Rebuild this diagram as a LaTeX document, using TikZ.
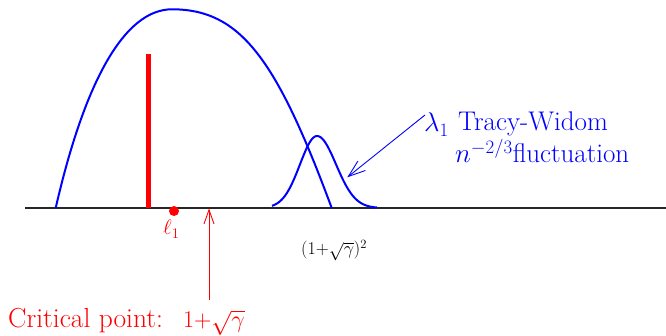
\RequirePackage{fix-cm}
\documentclass[tikz,border=0pt]{standalone}
\usetikzlibrary{arrows.meta}
\definecolor{pblue}{RGB}{0,0,255}
\definecolor{pred}{RGB}{255,0,0}
\begin{document}
\begin{tikzpicture}[x=1pt,y=-1pt,
  curve/.style={pblue,line width=2pt,line join=round},
  axisline/.style={black!85,line width=2pt},
  lbl/.style={inner sep=0pt,anchor=base west},
  bigtxt/.style={font=\fontsize{27}{32}\selectfont},
  redarrow/.style={pred,line width=0.9pt,-{Straight Barb[length=14pt,width=10pt]}},
  bluearrow/.style={pblue,line width=0.9pt,-{Straight Barb[length=17pt,width=12pt]}}]
\useasboundingbox (0,0) rectangle (666,336);
% axis
\coordinate (axL) at (25,208);
\coordinate (axR) at (666,208);
\draw[axisline] (axL) -- (axR);
% Marchenko-Pastur bulk
\coordinate (mpL) at (55.7,208);
\coordinate (mpTop) at (172,9.3);
\coordinate (mpR) at (331.7,208);
\draw[curve] (mpL) .. controls (85,80) and (125,9.3) .. (mpTop)
  .. controls (240,9.3) and (276.2,58) .. (mpR);
% Tracy-Widom bump
\draw[curve] plot[domain=272:317,samples=40] (\x,{208-72*exp(-((\x-317)/17)^2/2)})
  -- plot[domain=317:377,samples=50] (\x,{208-72*exp(-((\x-317)/19)^2/2)});
% red spike
\fill[pred] (145.5,54) rectangle (150.5,208);
% red dot
\fill[pred] (174,211) circle[radius=5];
% labels
\node[lbl,pred,font=\fontsize{21}{25}\selectfont] (ell) at (163,235) {$\ell_1$};
\node[lbl,font=\fontsize{18}{22}\selectfont] (edge) at (301,255) {$(1{+}\sqrt{\gamma})^2$};
\node[lbl,pblue,bigtxt] (lam) at (424,132) {$\lambda_1$};
\node[lbl,pblue,bigtxt] (tw) at (458,131) {Tracy-Widom};
\node[lbl,pblue,bigtxt] (fl) at (455,163) {$n^{-2/3}$fluctuation};
\node[lbl,pred,font=\fontsize{27.5}{33}\selectfont] (crit) at (8,327) {Critical point:};
\node[lbl,pred,font=\fontsize{24}{28}\selectfont] (critv) at (183,327) {$1{+}\sqrt{\gamma}$};
% arrows
\coordinate (cpbot) at (209,300);
\coordinate (cptop) at (209,208.5);
\draw[redarrow] (cpbot) -- (cptop);
\coordinate (twfrom) at (425,115);
\coordinate (twto) at (347.3,177.3);
\draw[bluearrow] (twfrom) -- (twto);
\end{tikzpicture}
\end{document}
